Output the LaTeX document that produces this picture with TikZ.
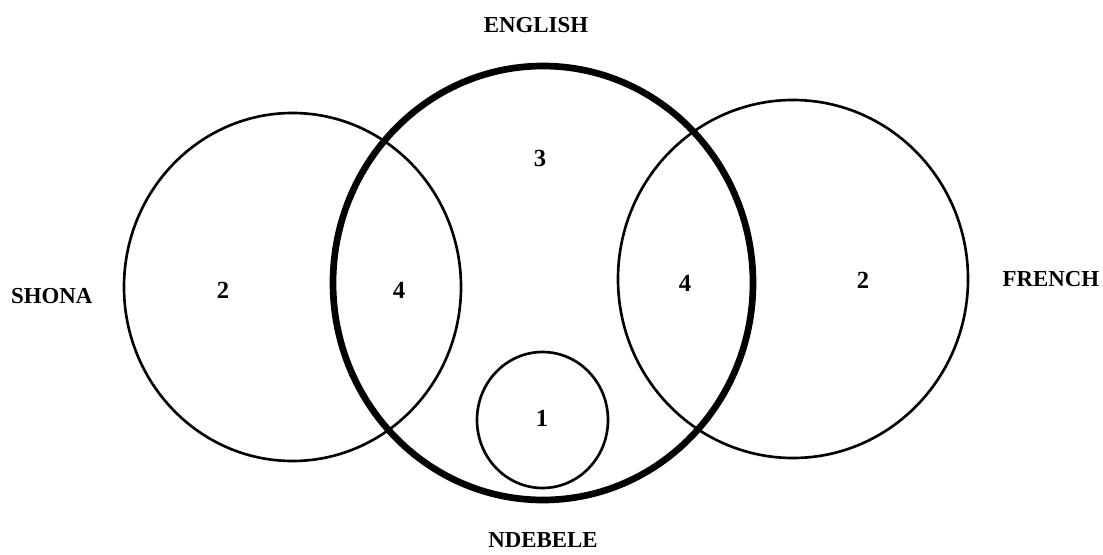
\documentclass[tikz,border=0pt]{standalone}
\usepackage{fontspec}
\setmainfont{Liberation Serif}
\usepackage{tikz}
\usetikzlibrary{positioning, shapes.geometric}

\begin{document}
\begin{tikzpicture}[
        ring/.style={ellipse, draw, line width=1.5pt, inner sep=0pt},
        bigring/.style={ring, line width=3.8pt},
        lang/.style={inner sep=0pt, font=\fontsize{13}{15}\selectfont\bfseries},
        count/.style={inner sep=0pt, font=\fontsize{14}{16}\selectfont\bfseries}
    ]
        \useasboundingbox (0,0) rectangle (22.06,11.08);

        \node[ring, minimum width=6.74cm, minimum height=6.96cm] (shona) at (5.85,5.34) {};
        \node[ring, minimum width=7.00cm, minimum height=7.16cm] (french) at (15.86,5.50) {};
        \node[bigring, minimum width=8.40cm, minimum height=8.68cm] (english) at (10.86,5.42) {};
        \node[ring, minimum width=2.62cm, minimum height=2.72cm] (ndebele) at (10.85,2.68) {};

        \node[lang, above=0.6cm of english, xshift=-0.14cm] (englab) {ENGLISH};
        \node[lang, below=0.58cm of english] (ndelab) {NDEBELE};
        \node[lang, left=0.6cm of shona, yshift=-0.18cm] (shonalab) {SHONA};
        \node[lang, right=0.66cm of french] (frenlab) {FRENCH};

        \node[count] (engonly) at (10.80,7.92) {3};
        \node[count] (shonly) at (4.46,5.28) {2};
        \node[count] (shoeng) at (7.98,5.28) {4};
        \node[count] (freeng) at (13.70,5.42) {4};
        \node[count] (fronly) at (17.26,5.48) {2};
        \node[count] (ndeonly) at (10.84,2.72) {1};
    \end{tikzpicture}
\end{document}
